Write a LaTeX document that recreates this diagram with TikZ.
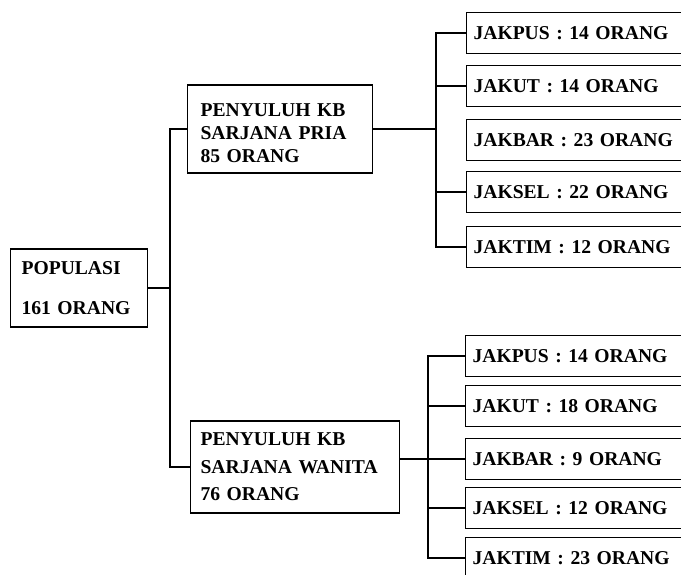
\documentclass[tikz,border=0pt]{standalone}
\usepackage{fontspec}
\setmainfont{Liberation Serif}
\begin{document}
\begin{tikzpicture}[
	x=1pt, y=-1pt,
	box/.style={ draw, line width=1.1pt, rectangle, anchor=west, align=left, inner ysep=0pt },
	leaf/.style={ box, minimum height=41, inner xsep=7pt, text width=280pt, font=\bfseries\fontsize{19.6}{24}\selectfont },
	link/.style={ line width=1.5pt }
]
\path[use as bounding box, clip] (0,0) rectangle (681,575);

\node at (10,288) (pop) [box, minimum width=137, minimum height=78, inner xsep=11pt, text width=115pt,
	font=\bfseries\fontsize{19.6}{40}\selectfont] {POPULASI\\161 ORANG};
\node at (187,129) (pria) [box, minimum height=88, inner xsep=13pt, text width=159pt,
	font=\bfseries\fontsize{19.6}{23}\selectfont] {\rule{0pt}{22pt}PENYULUH KB\\SARJANA PRIA\\85 ORANG};
\node at (190,467) (wanita) [box, minimum height=92, inner xsep=10pt, text width=189pt,
	font=\bfseries\fontsize{19.6}{27.5}\selectfont] {PENYULUH KB\\SARJANA WANITA\\76 ORANG};

\node at (466,33) (p1) [leaf] {JAKPUS : 14 ORANG};
\node at (466,86) (p2) [leaf] {JAKUT : 14 ORANG};
\node at (466,140) (p3) [leaf] {JAKBAR : 23 ORANG};
\node at (466,192) (p4) [leaf] {JAKSEL : 22 ORANG};
\node at (466,247) (p5) [leaf] {JAKTIM : 12 ORANG};

\node at (465,356) (w1) [leaf] {JAKPUS : 14 ORANG};
\node at (465,406) (w2) [leaf] {JAKUT : 18 ORANG};
\node at (465,459) (w3) [leaf] {JAKBAR : 9 ORANG};
\node at (465,508) (w4) [leaf] {JAKSEL : 12 ORANG};
\node at (465,558) (w5) [leaf] {JAKTIM : 23 ORANG};

% spines
\coordinate (ls) at (170,288);
\coordinate (ps) at (436,129);
\coordinate (ws) at (428,459);

\draw[link] (pop.east) -- (ls);
\draw[link] (pria.west) -| (ls) |- (wanita.west);

\draw[link] (pria.east) -- (ps);
\draw[link] (p1.west) -| (ps) |- (p5.west);
\draw[link] (p2.west) -- (p2.west -| ps);
\draw[link] (p4.west) -- (p4.west -| ps);

\draw[link] (wanita.east |- w3.west) -- (w3.west);
\draw[link] (w1.west) -| (ws) |- (w5.west);
\draw[link] (w2.west) -- (w2.west -| ws);
\draw[link] (w4.west) -- (w4.west -| ws);

\end{tikzpicture}
\end{document}
